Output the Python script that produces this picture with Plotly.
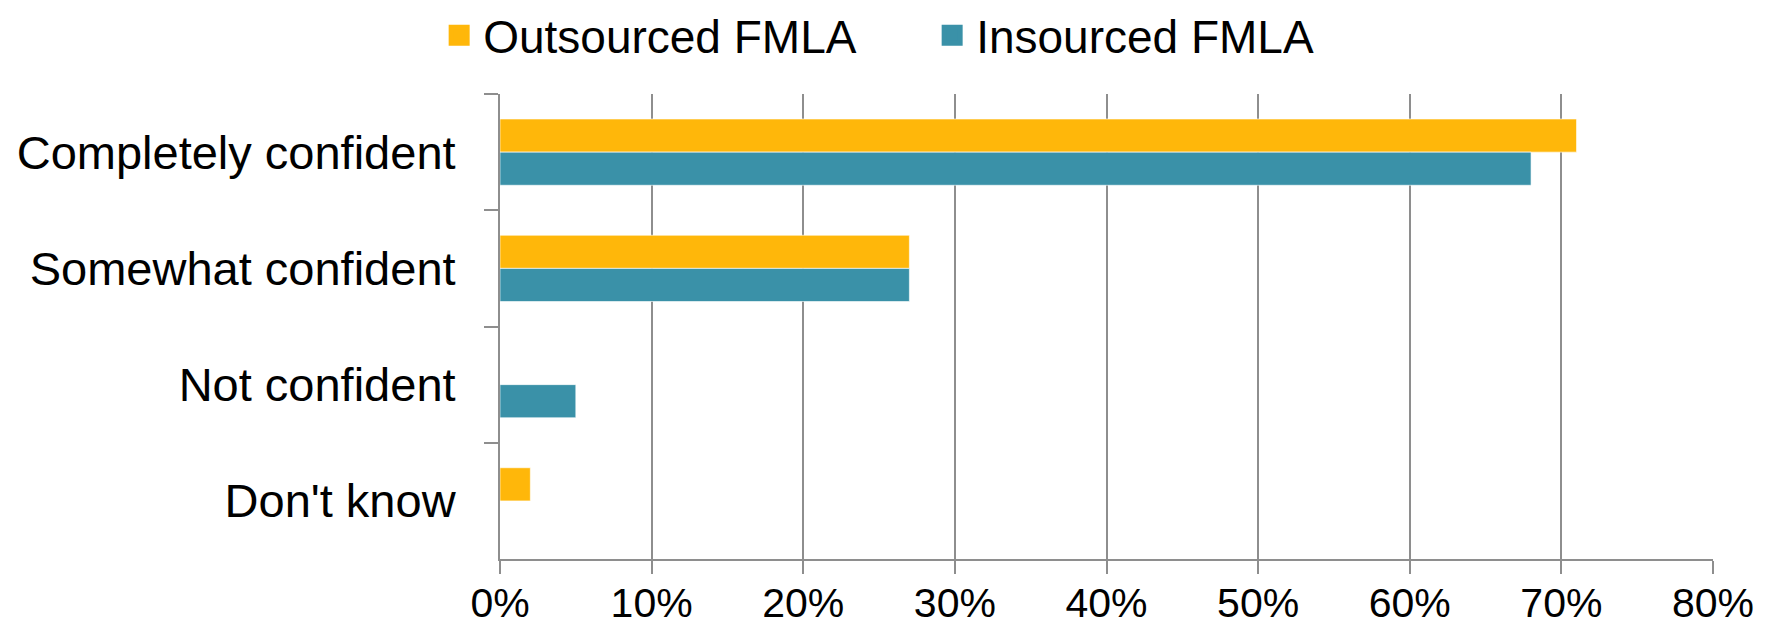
import plotly.graph_objects as go

categories = ["Completely confident", "Somewhat confident", "Not confident", "Don't know"]
outsourced = [71, 27, 0, 2]
insourced = [68, 27, 5, 0]
x_ticks = [0, 10, 20, 30, 40, 50, 60, 70, 80]
x_tick_labels = [f"{v}%" for v in x_ticks]

ORANGE = "#FFB70A"
TEAL = "#3A91A8"
GRID = "#8E8E8E"
FONT = "Liberation Sans, Arial, sans-serif"

fig = go.Figure()
fig.add_trace(go.Bar(y=categories, x=outsourced, orientation="h", name="Outsourced FMLA",
                     marker=dict(color=ORANGE, line=dict(color="rgba(255,255,255,0.6)", width=1)),
                     showlegend=False))
fig.add_trace(go.Bar(y=categories, x=insourced, orientation="h", name="Insourced FMLA",
                     marker=dict(color=TEAL, line=dict(color="rgba(255,255,255,0.6)", width=1)),
                     showlegend=False))
# legend entries
fig.add_trace(go.Scatter(x=[None], y=[None], mode="markers", name="Outsourced FMLA",
                         marker=dict(symbol="square", size=20, color=ORANGE,
                                     line=dict(color=ORANGE, width=5))))
fig.add_trace(go.Scatter(x=[None], y=[None], mode="markers", name="Insourced FMLA",
                         marker=dict(symbol="square", size=20, color=TEAL,
                                     line=dict(color=TEAL, width=5))))

# page body adds an 8px offset; figure sized so plot area lands at x 500-1713, y 94-559
fig.update_layout(
    width=1760, height=621,
    margin=dict(l=492, r=55, t=86, b=70, autoexpand=False),
    paper_bgcolor="white", plot_bgcolor="white",
    barmode="group", bargap=0.43, bargroupgap=0,
    font=dict(family=FONT, color="black"),
    legend=dict(orientation="h", x=0.2427, xref="container", xanchor="left",
                y=0.956, yref="container", yanchor="middle",
                font=dict(size=46, family=FONT), itemsizing="trace", itemwidth=38,
                traceorder="normal", entrywidth=440, entrywidthmode="pixels"),
    xaxis=dict(range=[0, 80], tickvals=x_ticks, ticktext=x_tick_labels,
               showgrid=True, gridcolor=GRID, gridwidth=2,
               showline=True, linecolor=GRID, linewidth=2,
               ticks="outside", ticklen=13, tickwidth=2, tickcolor=GRID,
               tickfont=dict(size=41, family=FONT), ticklabelstandoff=-6,
               zeroline=False, fixedrange=True, automargin=False),
    yaxis=dict(autorange="reversed", showgrid=False, showline=True, linecolor=GRID, linewidth=2,
               ticks="outside", tickson="boundaries", ticklen=14, tickwidth=2, tickcolor=GRID,
               tickfont=dict(size=47, family=FONT), ticklabelstandoff=33,
               fixedrange=True, automargin=False),
)

fig.write_html("out.html")
